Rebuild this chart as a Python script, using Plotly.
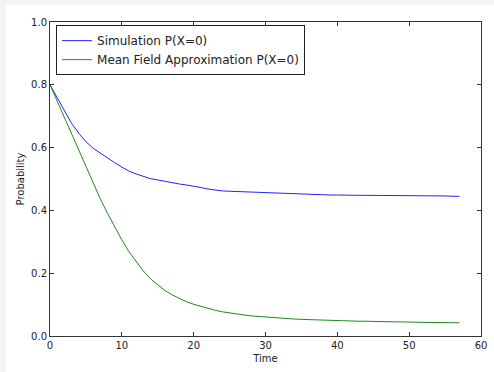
import plotly.graph_objects as go

time = list(range(0, 58))

sim_p0 = [0.800, 0.760, 0.718, 0.677, 0.646, 0.619, 0.598, 0.582, 0.567, 0.552,
          0.538, 0.525, 0.516, 0.508, 0.501, 0.497, 0.492, 0.487, 0.484, 0.481,
          0.478, 0.473, 0.468, 0.464, 0.462, 0.461, 0.460, 0.459, 0.458, 0.457,
          0.456, 0.455, 0.454, 0.453, 0.452, 0.451, 0.451, 0.450, 0.450, 0.449,
          0.449, 0.448, 0.448, 0.448, 0.448, 0.448, 0.447, 0.447, 0.447, 0.447,
          0.447, 0.446, 0.446, 0.446, 0.446, 0.446, 0.445, 0.445]

mf_p0 = [0.800, 0.748, 0.695, 0.643, 0.590, 0.537, 0.486, 0.437, 0.391, 0.347,
         0.306, 0.268, 0.236, 0.207, 0.182, 0.162, 0.145, 0.131, 0.119, 0.109,
         0.101, 0.094, 0.087, 0.082, 0.077, 0.073, 0.070, 0.067, 0.064, 0.062,
         0.060, 0.058, 0.057, 0.055, 0.054, 0.053, 0.052, 0.051, 0.050, 0.050,
         0.049, 0.048, 0.048, 0.047, 0.047, 0.046, 0.046, 0.045, 0.045, 0.045,
         0.044, 0.044, 0.044, 0.043, 0.043, 0.043, 0.043, 0.042]

x_ticks = [0, 10, 20, 30, 40, 50, 60]
y_ticks = [0.0, 0.2, 0.4, 0.6, 0.8, 1.0]
y_tick_labels = ["0.0", "0.2", "0.4", "0.6", "0.8", "1.0"]

FONT = "DejaVu Sans"

fig = go.Figure()
fig.add_trace(go.Scatter(x=time, y=sim_p0, mode="lines", name="Simulation P(X=0)",
                         line=dict(color="#2222ff", width=1)))
fig.add_trace(go.Scatter(x=time, y=mf_p0, mode="lines", name="Mean Field Approximation P(X=0)",
                         line=dict(color="#1a8c1a", width=1)))

axis_common = dict(showgrid=False, zeroline=False, showline=True, linecolor="#333333",
                   linewidth=1, mirror="ticks", ticks="inside", ticklen=4,
                   tickcolor="#333333", tickwidth=1, automargin=False,
                   tickfont=dict(family=FONT, size=10, color="#222222"))

fig.update_xaxes(range=[0, 60], tickvals=x_ticks, ticktext=[str(v) for v in x_ticks],
                 title=dict(text="Time", font=dict(family=FONT, size=10, color="#222222"), standoff=4),
                 **axis_common)
fig.update_yaxes(range=[0, 1.0], tickvals=y_ticks, ticktext=y_tick_labels,
                 title=dict(text="Probability", font=dict(family=FONT, size=10, color="#222222"), standoff=4),
                 **axis_common)

fig.update_layout(
    width=494, height=372,
    margin=dict(l=50, r=13, t=22, b=36),
    paper_bgcolor="#f4f4f4", plot_bgcolor="white",
    font=dict(family=FONT, size=10, color="#222222"),
    showlegend=True,
    legend=dict(x=0.014, y=0.99, xanchor="left", yanchor="top",
                bgcolor="white", bordercolor="#222222", borderwidth=1,
                font=dict(family=FONT, size=12, color="#222222"),
                tracegroupgap=0),
    shapes=[dict(type="rect", xref="paper", yref="paper", layer="below",
                 x0=-0.1021, x1=1.0302, y0=-0.1146, y1=1.054,
                 fillcolor="white", line=dict(width=0))],
)

fig.write_html("out.html", config={"displayModeBar": False},
               post_script="document.body.style.margin='0px';")
